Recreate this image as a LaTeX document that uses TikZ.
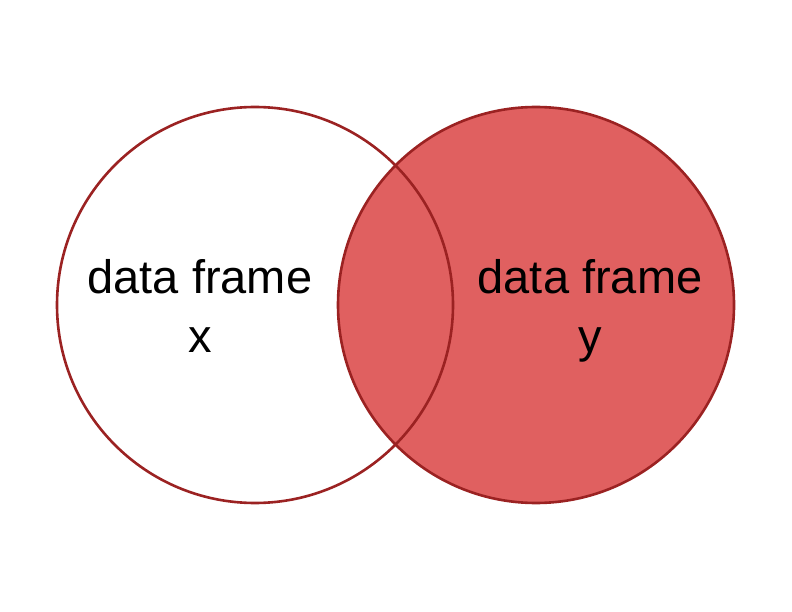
\documentclass[tikz,border=0pt]{standalone}
\usepackage{fontspec}
\setmainfont{Liberation Sans}
\usepackage{tikz}
\usetikzlibrary{positioning}
\definecolor{setred}{HTML}{E06060}
\definecolor{setborder}{HTML}{9B2222}

\begin{document}
\begin{tikzpicture}[x=1pt, y=-1pt, font=\fontsize{47}{59}\selectfont]
%
\useasboundingbox (0,0) rectangle (792,612);

%%% sets

%%% DATA FRAME Y
\node [circle, draw=setborder, fill=setred, line width=2.6pt, minimum size=396pt, inner sep=0pt] (set-y) at (536,305) {};

%%% DATA FRAME X
\node [circle, draw=setborder, line width=2.6pt, minimum size=396pt, inner sep=0pt] (set-x) at (255,305) {};

%%% labels
\node [align=center, inner sep=0pt, anchor=base] (label-x) at (200,352) {data frame\\x};
\node [align=center, inner sep=0pt, anchor=base] (label-y) at (590,352) {data frame\\y};

\end{tikzpicture}
\end{document}
